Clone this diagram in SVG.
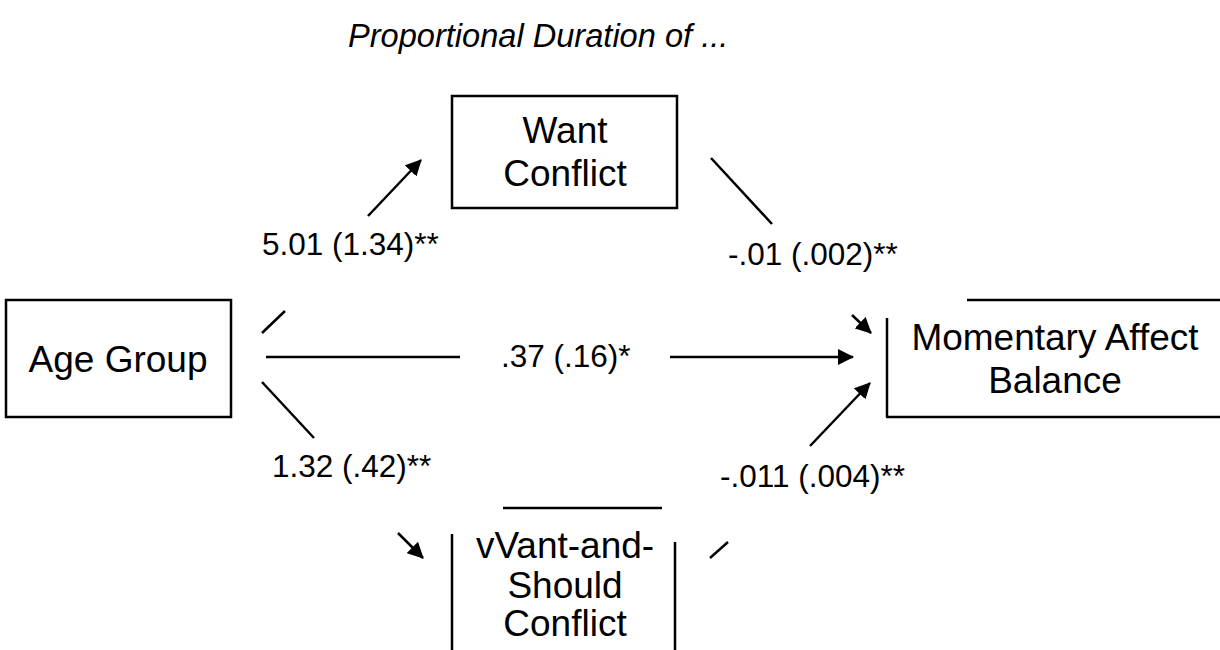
<svg xmlns="http://www.w3.org/2000/svg" width="1220" height="650" viewBox="0 0 1220 650">
<defs>
<style>
.t{font-family:"Liberation Sans",Arial,sans-serif;fill:#000}
.node{font-size:37px;text-anchor:middle}
.lab{font-size:31.5px}
.title{font-size:32.6px;font-style:italic}
.ln{stroke:#000;stroke-width:2.5;fill:none}
</style>
<marker id="ah" markerUnits="userSpaceOnUse" markerWidth="17" markerHeight="16" refX="15" refY="8" orient="auto">
<path d="M0,0 L16,8 L0,16 z" fill="#000"/>
</marker>
</defs>
<rect width="1220" height="650" fill="#fff"/>
<text class="t title" x="348" y="47">Proportional Duration of ...</text>

<g id="age-group">
<rect class="ln" x="6" y="300" width="225" height="117"/>
<text class="t node" x="118" y="372">Age Group</text>
</g>

<g id="want-conflict">
<rect class="ln" x="452" y="96" width="225" height="112"/>
<text class="t node" x="565" y="143">Want</text>
<text class="t node" x="565" y="186">Conflict</text>
</g>

<g id="want-should-conflict">
<line class="ln" x1="503" y1="508" x2="662" y2="508"/>
<line class="ln" x1="452" y1="534" x2="452" y2="650"/>
<line class="ln" x1="675" y1="542" x2="675" y2="650"/>
<text class="t node" x="565" y="558">vVant-and-</text>
<text class="t node" x="565" y="598">Should</text>
<text class="t node" x="565" y="636">Conflict</text>
</g>

<g id="momentary-affect-balance">
<line class="ln" x1="967" y1="300" x2="1220" y2="300"/>
<line class="ln" x1="887" y1="318" x2="887" y2="417"/>
<line class="ln" x1="886" y1="417" x2="1220" y2="417"/>
<text class="t node" x="1055" y="350">Momentary Affect</text>
<text class="t node" x="1055" y="393">Balance</text>
</g>

<g id="connectors">
<line class="ln" x1="262" y1="333" x2="285" y2="311"/>
<line class="ln" x1="368" y1="216" x2="421" y2="160" marker-end="url(#ah)"/>
<text class="t lab" x="262" y="255">5.01 (1.34)**</text>

<line class="ln" x1="266" y1="357" x2="460" y2="357"/>
<line class="ln" x1="670" y1="357" x2="853" y2="357" marker-end="url(#ah)"/>
<text class="t lab" x="501" y="367">.37 (.16)*</text>

<line class="ln" x1="262" y1="382" x2="314" y2="438"/>
<line class="ln" x1="398" y1="533" x2="423" y2="558" marker-end="url(#ah)"/>
<text class="t lab" x="272" y="477">1.32 (.42)**</text>

<line class="ln" x1="711" y1="158" x2="772" y2="224"/>
<line class="ln" x1="852" y1="315" x2="871" y2="333" marker-end="url(#ah)"/>
<text class="t lab" x="728" y="265">-.01 (.002)**</text>

<line class="ln" x1="710" y1="558" x2="728" y2="542"/>
<line class="ln" x1="810" y1="446" x2="870" y2="383" marker-end="url(#ah)"/>
<text class="t lab" x="720" y="487">-.011 (.004)**</text>
</g>
</svg>
